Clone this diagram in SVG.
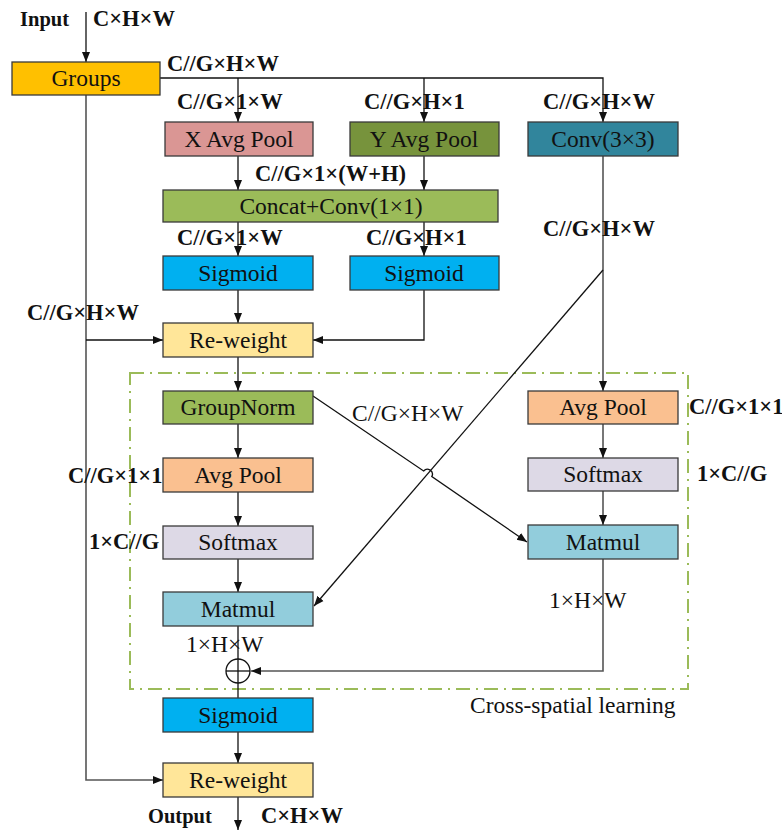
<svg xmlns="http://www.w3.org/2000/svg" width="782" height="831" viewBox="0 0 782 831">
<style>
.box{stroke:#3a3a3a;stroke-width:1.3}
.t{font-family:"Liberation Serif","Times New Roman",serif;font-size:23.5px;fill:#111;text-anchor:middle}
.lb{font-family:"Liberation Serif","Times New Roman",serif;font-size:22.5px;font-weight:bold;fill:#111}
.lr{font-family:"Liberation Serif","Times New Roman",serif;font-size:23.5px;fill:#111}
.io{font-family:"Liberation Serif","Times New Roman",serif;font-size:20.5px;font-weight:bold;fill:#111}
.c{fill:none;stroke:#111;stroke-width:1.3}
.g{fill:none;stroke:#555;stroke-width:1.6}
</style>
<defs>
<marker id="a" markerUnits="userSpaceOnUse" markerWidth="10" markerHeight="10" viewBox="0 0 10 10" refX="10" refY="5" orient="auto">
<path d="M0,1 L10,5 L0,9 Z" fill="#111"/>
</marker>
</defs>
<rect x="130" y="373" width="558" height="316" fill="none" stroke="#9BBB59" stroke-width="2" stroke-dasharray="14 6 2 6"/>
<g id="connectors">
<path class="c" d="M86,12 V62" marker-end="url(#a)"/>
<path class="c" d="M160,78 H603 V122" marker-end="url(#a)"/>
<path class="c" d="M238,78 V122" marker-end="url(#a)"/>
<path class="c" d="M424,78 V122" marker-end="url(#a)"/>
<path class="c" d="M238,156 V190" marker-end="url(#a)"/>
<path class="c" d="M424,156 V190" marker-end="url(#a)"/>
<path class="c" d="M238,222 V256" marker-end="url(#a)"/>
<path class="c" d="M424,222 V256" marker-end="url(#a)"/>
<path class="c" d="M238,290 V323" marker-end="url(#a)"/>
<path class="c" d="M424,290 V340 H313" marker-end="url(#a)"/>
<path class="g" d="M86,95 V780 H163" marker-end="url(#a)"/>
<path class="c" d="M86,340 H163" marker-end="url(#a)"/>
<path class="g" d="M603,156 V391" marker-end="url(#a)"/>
<path class="c" d="M603,270 L314,606" marker-end="url(#a)"/>
<path class="c" d="M238,357 V391" marker-end="url(#a)"/>
<path class="c" d="M238,424 V458" marker-end="url(#a)"/>
<path class="c" d="M238,492 V526" marker-end="url(#a)"/>
<path class="c" d="M238,559 V592" marker-end="url(#a)"/>
<path class="g" d="M603,424 V458" marker-end="url(#a)"/>
<path class="g" d="M603,491 V525" marker-end="url(#a)"/>
<path class="c" d="M313,396 L423.6,471 A5,5 0 0 1 431.8,476.6 L527,542" marker-end="url(#a)"/>
<path class="c" d="M238,626 V698"/>
<path class="g" d="M603,559 V671 H251" marker-end="url(#a)"/>
<path class="c" d="M238,732 V763" marker-end="url(#a)"/>
<path class="c" d="M238,797 V830" marker-end="url(#a)"/>
</g>
<g id="add">
<circle cx="238" cy="671" r="12" fill="none" stroke="#111" stroke-width="1.3"/>
<path class="c" d="M226,671 H250"/>
</g>
<g id="groups"><rect class="box" x="12" y="62" width="148" height="33" fill="#FFC000"/><text class="t" x="86" y="86">Groups</text></g>
<g id="xavg"><rect class="box" x="165" y="122" width="148" height="34" fill="#DA9694"/><text class="t" x="239" y="147">X Avg Pool</text></g>
<g id="yavg"><rect class="box" x="350" y="122" width="149" height="34" fill="#77933C"/><text class="t" x="424" y="147">Y Avg Pool</text></g>
<g id="conv"><rect class="box" x="528" y="122" width="150" height="34" fill="#31859C"/><text class="t" x="603" y="147">Conv(3×3)</text></g>
<g id="concat"><rect class="box" x="163" y="190" width="335" height="32" fill="#9BBB59"/><text class="t" x="331" y="214">Concat+Conv(1×1)</text></g>
<g id="sigL"><rect class="box" x="163" y="256" width="150" height="34" fill="#00B0F0"/><text class="t" x="238" y="281">Sigmoid</text></g>
<g id="sigR"><rect class="box" x="350" y="256" width="149" height="34" fill="#00B0F0"/><text class="t" x="424" y="281">Sigmoid</text></g>
<g id="rw1"><rect class="box" x="163" y="323" width="150" height="34" fill="#FFE699"/><text class="t" x="238" y="348">Re-weight</text></g>
<g id="gn"><rect class="box" x="163" y="391" width="150" height="33" fill="#9BBB59"/><text class="t" x="238" y="415">GroupNorm</text></g>
<g id="apL"><rect class="box" x="163" y="458" width="150" height="34" fill="#FAC090"/><text class="t" x="238" y="483">Avg Pool</text></g>
<g id="smL"><rect class="box" x="163" y="526" width="150" height="33" fill="#DDD9E6"/><text class="t" x="238" y="550">Softmax</text></g>
<g id="mmL"><rect class="box" x="163" y="592" width="150" height="34" fill="#92CDDC"/><text class="t" x="238" y="617">Matmul</text></g>
<g id="apR"><rect class="box" x="528" y="391" width="150" height="33" fill="#FAC090"/><text class="t" x="603" y="415">Avg Pool</text></g>
<g id="smR"><rect class="box" x="528" y="458" width="150" height="33" fill="#DDD9E6"/><text class="t" x="603" y="482">Softmax</text></g>
<g id="mmR"><rect class="box" x="528" y="525" width="150" height="34" fill="#92CDDC"/><text class="t" x="603" y="550">Matmul</text></g>
<g id="sig3"><rect class="box" x="163" y="698" width="150" height="34" fill="#00B0F0"/><text class="t" x="238" y="723">Sigmoid</text></g>
<g id="rw2"><rect class="box" x="163" y="763" width="150" height="34" fill="#FFE699"/><text class="t" x="238" y="788">Re-weight</text></g>
<g id="labels">
<text class="io" x="20" y="26">Input</text>
<text class="lb" x="93" y="26">C×H×W</text>
<text class="lb" x="167" y="71">C//G×H×W</text>
<text class="lb" x="177" y="109">C//G×1×W</text>
<text class="lb" x="364" y="109">C//G×H×1</text>
<text class="lb" x="543" y="109">C//G×H×W</text>
<text class="lb" x="255" y="181">C//G×1×(W+H)</text>
<text class="lb" x="177" y="245">C//G×1×W</text>
<text class="lb" x="366" y="245">C//G×H×1</text>
<text class="lb" x="543" y="236">C//G×H×W</text>
<text class="lb" x="27" y="320">C//G×H×W</text>
<text class="lr" x="352" y="421">C//G×H×W</text>
<text class="lb" x="689" y="414">C//G×1×1</text>
<text class="lb" x="697" y="481">1×C//G</text>
<text class="lb" x="68" y="483">C//G×1×1</text>
<text class="lb" x="89" y="549">1×C//G</text>
<text class="lr" x="549" y="608">1×H×W</text>
<text class="lr" x="186" y="652">1×H×W</text>
<text class="lr" x="470" y="713">Cross-spatial learning</text>
<text class="io" x="148" y="823">Output</text>
<text class="lb" x="261" y="823">C×H×W</text>
</g>
</svg>
